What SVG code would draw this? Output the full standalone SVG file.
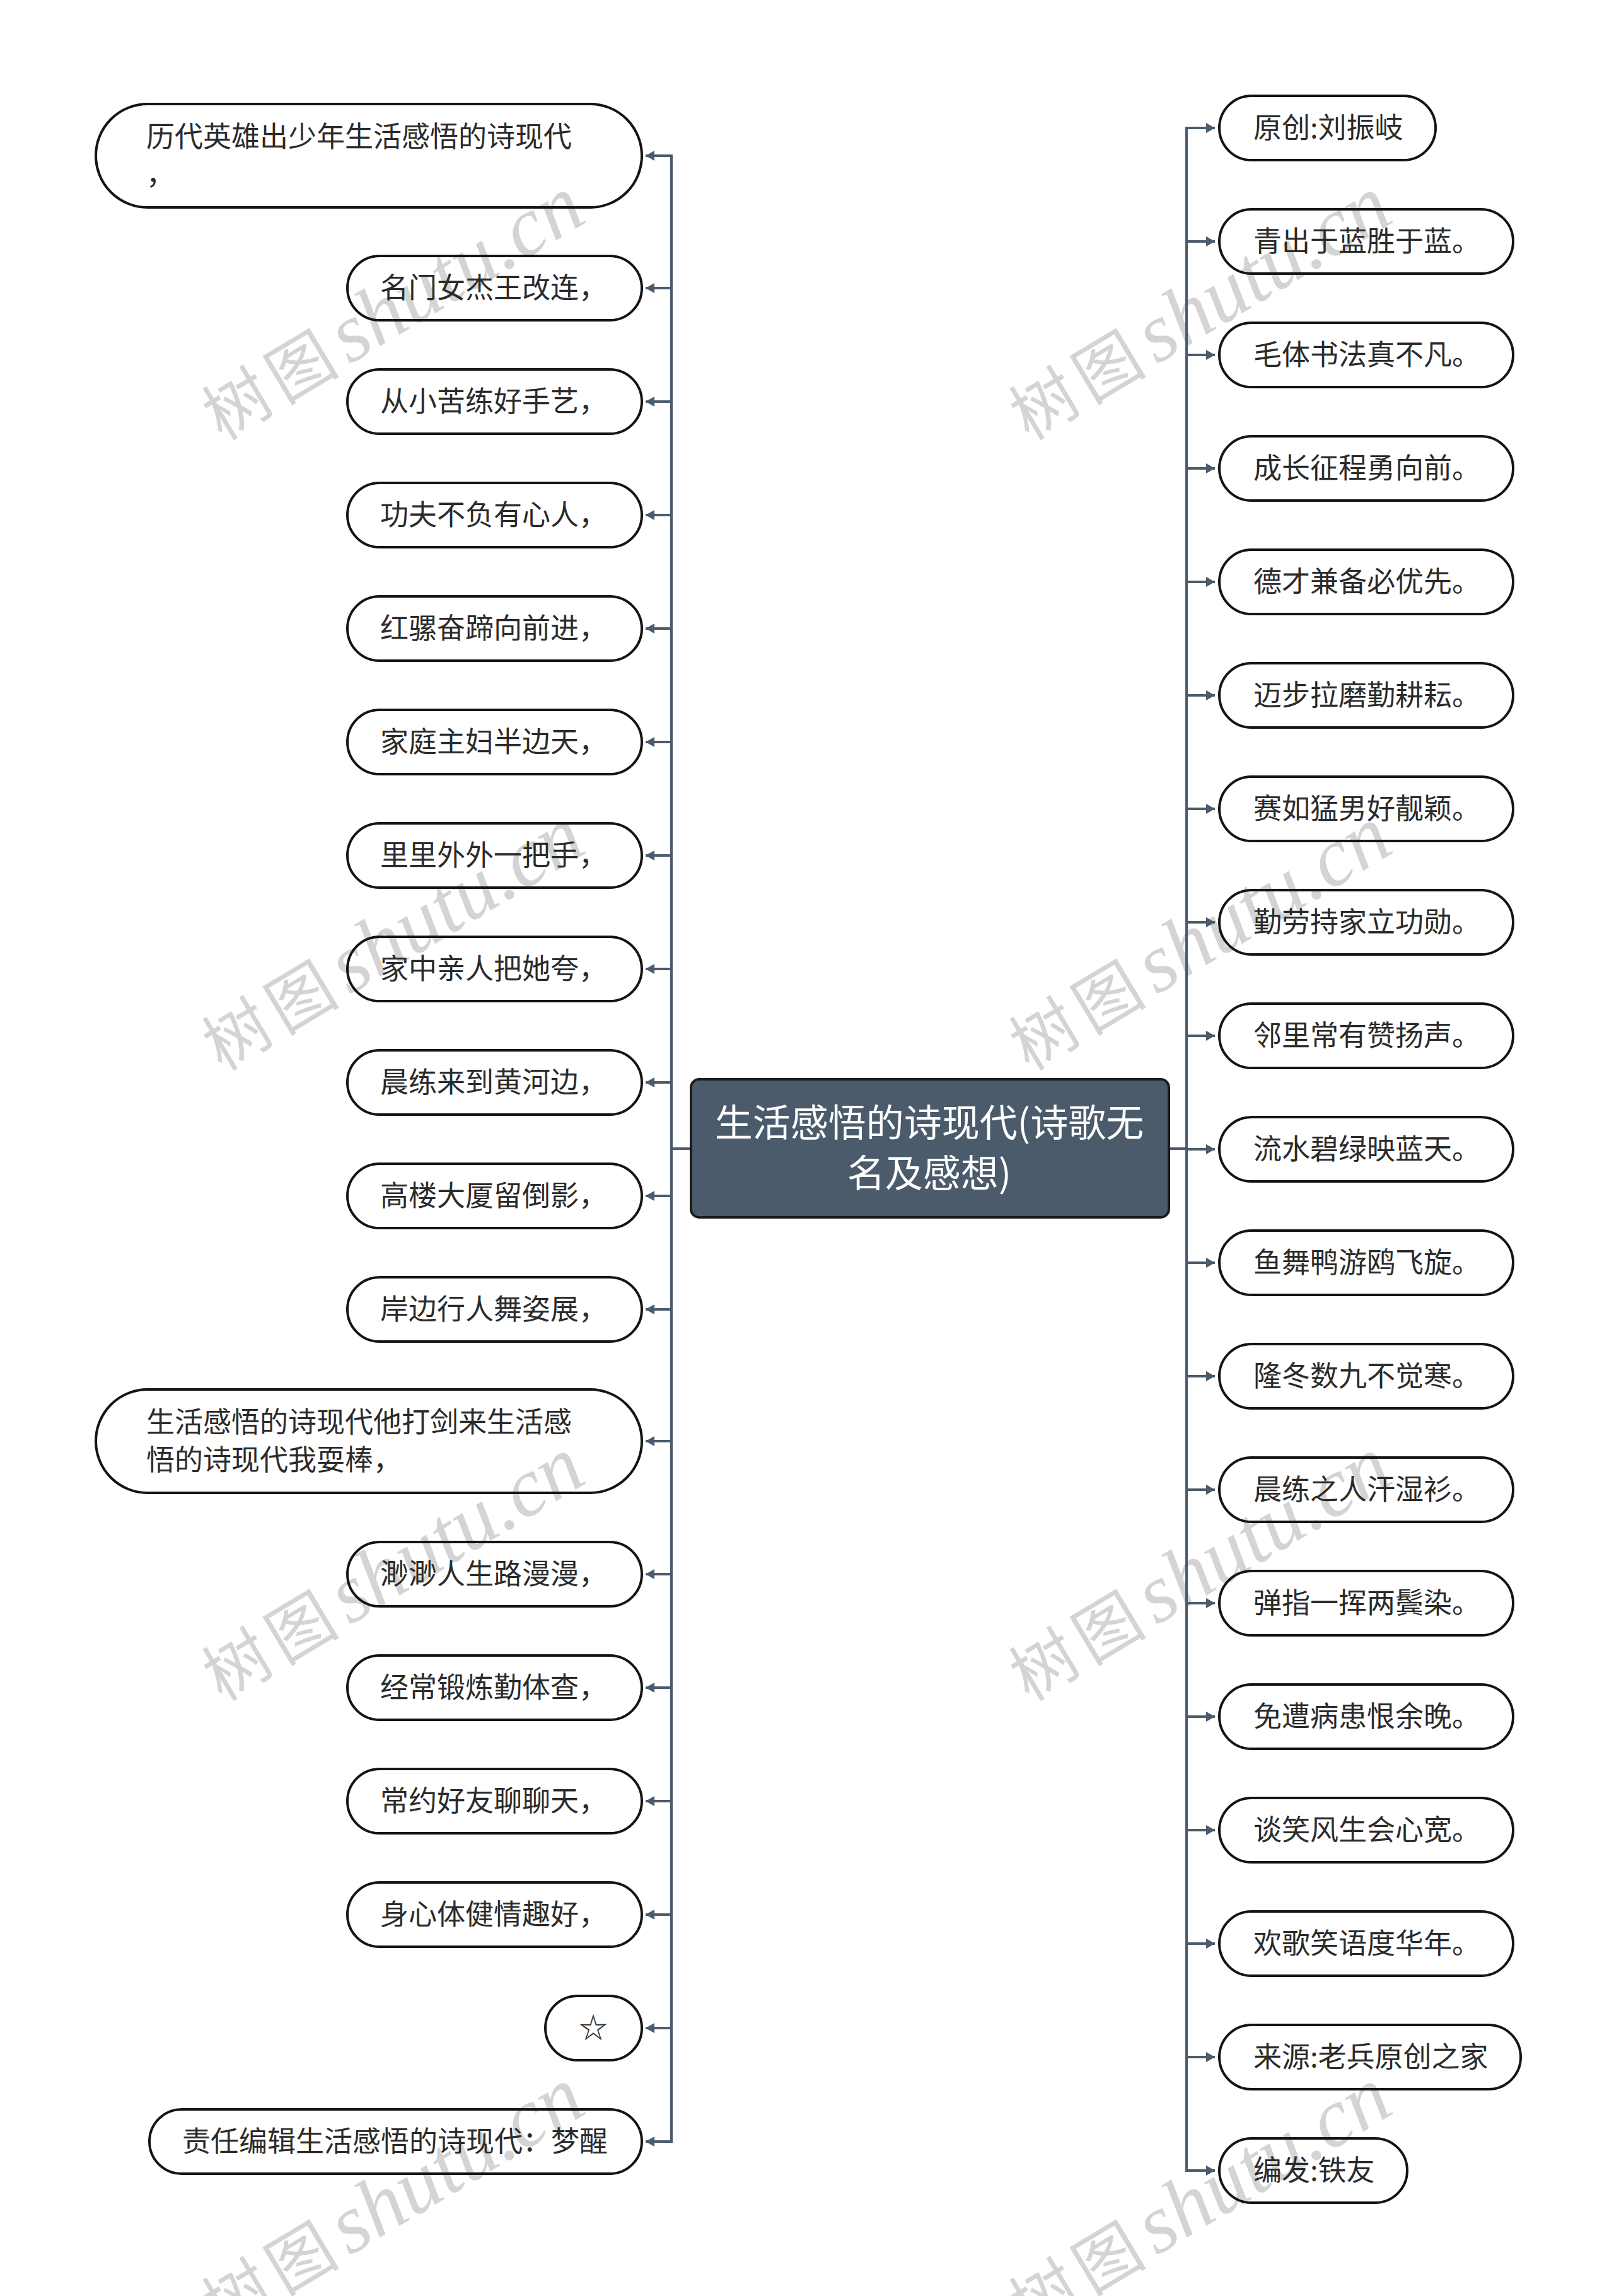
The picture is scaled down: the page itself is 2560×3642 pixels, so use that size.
<svg xmlns="http://www.w3.org/2000/svg" width="2560" height="3642" viewBox="0 0 2560 3642">
<style>
.bg{fill:#ffffff}
.wm{fill:#d4d4d4}
.wmc{font-family:"Noto Sans CJK SC","Noto Sans CJK TC",sans-serif;font-size:104px}
.wml{font-family:"Liberation Serif",serif;font-style:italic;font-size:132px}
.node{fill:none;stroke:#141414;stroke-width:4}
.t{font-family:"Noto Sans CJK SC","Noto Sans CJK TC",sans-serif;font-size:45px;fill:#2b2b2b}
.root{fill:#4b5b6b;stroke:#1c1c1c;stroke-width:4}
.rt{font-family:"Noto Sans CJK SC","Noto Sans CJK TC",sans-serif;font-size:60px;fill:#ffffff;text-anchor:middle}
.c{fill:none;stroke:#4b5b6b;stroke-width:4}
.tr{fill:none;stroke:#4b5b6b;stroke-width:4;stroke-linecap:square}
</style>
<defs>
<marker id="ah" viewBox="0 0 14 16" refX="14" refY="8" markerWidth="14" markerHeight="16" markerUnits="userSpaceOnUse" orient="auto">
<path d="M0,0 L14,8 L0,16 z" fill="#4b5b6b"/>
</marker>
</defs>
<rect class="bg" x="0" y="0" width="2560" height="3642"/>
<g id="watermarks" class="wm">
<text transform="translate(352,700) rotate(-31)"><tspan class="wmc">树</tspan><tspan class="wmc" dx="12">图</tspan><tspan class="wml" dx="16">shutu.cn</tspan></text>
<text transform="translate(1632,700) rotate(-31)"><tspan class="wmc">树</tspan><tspan class="wmc" dx="12">图</tspan><tspan class="wml" dx="16">shutu.cn</tspan></text>
<text transform="translate(352,1700) rotate(-31)"><tspan class="wmc">树</tspan><tspan class="wmc" dx="12">图</tspan><tspan class="wml" dx="16">shutu.cn</tspan></text>
<text transform="translate(1632,1700) rotate(-31)"><tspan class="wmc">树</tspan><tspan class="wmc" dx="12">图</tspan><tspan class="wml" dx="16">shutu.cn</tspan></text>
<text transform="translate(352,2700) rotate(-31)"><tspan class="wmc">树</tspan><tspan class="wmc" dx="12">图</tspan><tspan class="wml" dx="16">shutu.cn</tspan></text>
<text transform="translate(1632,2700) rotate(-31)"><tspan class="wmc">树</tspan><tspan class="wmc" dx="12">图</tspan><tspan class="wml" dx="16">shutu.cn</tspan></text>
<text transform="translate(352,3700) rotate(-31)"><tspan class="wmc">树</tspan><tspan class="wmc" dx="12">图</tspan><tspan class="wml" dx="16">shutu.cn</tspan></text>
<text transform="translate(1632,3700) rotate(-31)"><tspan class="wmc">树</tspan><tspan class="wmc" dx="12">图</tspan><tspan class="wml" dx="16">shutu.cn</tspan></text>
</g>
<g id="connectors">
<path class="tr" d="M1065,247 V3397"/>
<path class="tr" d="M1882,203 V3443"/>
<path class="c" d="M1094,1822 H1065"/>
<path class="c" d="M1855,1822 H1882"/>
<g marker-end="url(#ah)">
<path class="c" d="M1065,247 H1024"/>
<path class="c" d="M1065,457 H1024"/>
<path class="c" d="M1065,637 H1024"/>
<path class="c" d="M1065,817 H1024"/>
<path class="c" d="M1065,997 H1024"/>
<path class="c" d="M1065,1177 H1024"/>
<path class="c" d="M1065,1357 H1024"/>
<path class="c" d="M1065,1537 H1024"/>
<path class="c" d="M1065,1717 H1024"/>
<path class="c" d="M1065,1897 H1024"/>
<path class="c" d="M1065,2077 H1024"/>
<path class="c" d="M1065,2286 H1024"/>
<path class="c" d="M1065,2497 H1024"/>
<path class="c" d="M1065,2677 H1024"/>
<path class="c" d="M1065,2857 H1024"/>
<path class="c" d="M1065,3037 H1024"/>
<path class="c" d="M1065,3217 H1024"/>
<path class="c" d="M1065,3397 H1024"/>
<path class="c" d="M1882,203 H1927"/>
<path class="c" d="M1882,383 H1927"/>
<path class="c" d="M1882,563 H1927"/>
<path class="c" d="M1882,743 H1927"/>
<path class="c" d="M1882,923 H1927"/>
<path class="c" d="M1882,1103 H1927"/>
<path class="c" d="M1882,1283 H1927"/>
<path class="c" d="M1882,1463 H1927"/>
<path class="c" d="M1882,1643 H1927"/>
<path class="c" d="M1882,1823 H1927"/>
<path class="c" d="M1882,2003 H1927"/>
<path class="c" d="M1882,2183 H1927"/>
<path class="c" d="M1882,2363 H1927"/>
<path class="c" d="M1882,2543 H1927"/>
<path class="c" d="M1882,2723 H1927"/>
<path class="c" d="M1882,2903 H1927"/>
<path class="c" d="M1882,3083 H1927"/>
<path class="c" d="M1882,3263 H1927"/>
<path class="c" d="M1882,3443 H1927"/>
</g>
</g>
<g id="root">
<rect class="root" x="1096" y="1712" width="758" height="219" rx="13"/>
<text class="rt" x="1474" y="1803">生活感悟的诗现代(诗歌无</text>
<text class="rt" x="1474" y="1883">名及感想)</text>
</g>
<g id="L0"><rect class="node" x="152" y="165" width="866" height="164" rx="82"/><text class="t" x="232" y="233">历代英雄出少年生活感悟的诗现代</text><text class="t" x="232" y="293">，</text></g>
<g id="L1"><rect class="node" x="551" y="406" width="467" height="102" rx="51"/><text class="t" x="603" y="473">名门女杰王改连，</text></g>
<g id="L2"><rect class="node" x="551" y="586" width="467" height="102" rx="51"/><text class="t" x="603" y="653">从小苦练好手艺，</text></g>
<g id="L3"><rect class="node" x="551" y="766" width="467" height="102" rx="51"/><text class="t" x="603" y="833">功夫不负有心人，</text></g>
<g id="L4"><rect class="node" x="551" y="946" width="467" height="102" rx="51"/><text class="t" x="603" y="1013">红骡奋蹄向前进，</text></g>
<g id="L5"><rect class="node" x="551" y="1126" width="467" height="102" rx="51"/><text class="t" x="603" y="1193">家庭主妇半边天，</text></g>
<g id="L6"><rect class="node" x="551" y="1306" width="467" height="102" rx="51"/><text class="t" x="603" y="1373">里里外外一把手，</text></g>
<g id="L7"><rect class="node" x="551" y="1486" width="467" height="102" rx="51"/><text class="t" x="603" y="1553">家中亲人把她夸，</text></g>
<g id="L8"><rect class="node" x="551" y="1666" width="467" height="102" rx="51"/><text class="t" x="603" y="1733">晨练来到黄河边，</text></g>
<g id="L9"><rect class="node" x="551" y="1846" width="467" height="102" rx="51"/><text class="t" x="603" y="1913">高楼大厦留倒影，</text></g>
<g id="L10"><rect class="node" x="551" y="2026" width="467" height="102" rx="51"/><text class="t" x="603" y="2093">岸边行人舞姿展，</text></g>
<g id="L11"><rect class="node" x="152" y="2204" width="866" height="164" rx="82"/><text class="t" x="232" y="2272">生活感悟的诗现代他打剑来生活感</text><text class="t" x="232" y="2332">悟的诗现代我耍棒，</text></g>
<g id="L12"><rect class="node" x="551" y="2446" width="467" height="102" rx="51"/><text class="t" x="603" y="2513">渺渺人生路漫漫，</text></g>
<g id="L13"><rect class="node" x="551" y="2626" width="467" height="102" rx="51"/><text class="t" x="603" y="2693">经常锻炼勤体查，</text></g>
<g id="L14"><rect class="node" x="551" y="2806" width="467" height="102" rx="51"/><text class="t" x="603" y="2873">常约好友聊聊天，</text></g>
<g id="L15"><rect class="node" x="551" y="2986" width="467" height="102" rx="51"/><text class="t" x="603" y="3053">身心体健情趣好，</text></g>
<g id="L16"><rect class="node" x="865" y="3166" width="153" height="102" rx="51"/><text class="t" x="941" y="3233" text-anchor="middle">☆</text></g>
<g id="L17"><rect class="node" x="237" y="3346" width="781" height="102" rx="51"/><text class="t" x="289" y="3413">责任编辑生活感悟的诗现代：梦醒</text></g>
<g id="R0"><rect class="node" x="1934" y="152" width="343" height="102" rx="51"/><text class="t" x="1988" y="219">原创:刘振岐</text></g>
<g id="R1"><rect class="node" x="1934" y="332" width="466" height="102" rx="51"/><text class="t" x="1988" y="399">青出于蓝胜于蓝。</text></g>
<g id="R2"><rect class="node" x="1934" y="512" width="466" height="102" rx="51"/><text class="t" x="1988" y="579">毛体书法真不凡。</text></g>
<g id="R3"><rect class="node" x="1934" y="692" width="466" height="102" rx="51"/><text class="t" x="1988" y="759">成长征程勇向前。</text></g>
<g id="R4"><rect class="node" x="1934" y="872" width="466" height="102" rx="51"/><text class="t" x="1988" y="939">德才兼备必优先。</text></g>
<g id="R5"><rect class="node" x="1934" y="1052" width="466" height="102" rx="51"/><text class="t" x="1988" y="1119">迈步拉磨勤耕耘。</text></g>
<g id="R6"><rect class="node" x="1934" y="1232" width="466" height="102" rx="51"/><text class="t" x="1988" y="1299">赛如猛男好靓颖。</text></g>
<g id="R7"><rect class="node" x="1934" y="1412" width="466" height="102" rx="51"/><text class="t" x="1988" y="1479">勤劳持家立功勋。</text></g>
<g id="R8"><rect class="node" x="1934" y="1592" width="466" height="102" rx="51"/><text class="t" x="1988" y="1659">邻里常有赞扬声。</text></g>
<g id="R9"><rect class="node" x="1934" y="1772" width="466" height="102" rx="51"/><text class="t" x="1988" y="1839">流水碧绿映蓝天。</text></g>
<g id="R10"><rect class="node" x="1934" y="1952" width="466" height="102" rx="51"/><text class="t" x="1988" y="2019">鱼舞鸭游鸥飞旋。</text></g>
<g id="R11"><rect class="node" x="1934" y="2132" width="466" height="102" rx="51"/><text class="t" x="1988" y="2199">隆冬数九不觉寒。</text></g>
<g id="R12"><rect class="node" x="1934" y="2312" width="466" height="102" rx="51"/><text class="t" x="1988" y="2379">晨练之人汗湿衫。</text></g>
<g id="R13"><rect class="node" x="1934" y="2492" width="466" height="102" rx="51"/><text class="t" x="1988" y="2559">弹指一挥两鬓染。</text></g>
<g id="R14"><rect class="node" x="1934" y="2672" width="466" height="102" rx="51"/><text class="t" x="1988" y="2739">免遭病患恨余晚。</text></g>
<g id="R15"><rect class="node" x="1934" y="2852" width="466" height="102" rx="51"/><text class="t" x="1988" y="2919">谈笑风生会心宽。</text></g>
<g id="R16"><rect class="node" x="1934" y="3032" width="466" height="102" rx="51"/><text class="t" x="1988" y="3099">欢歌笑语度华年。</text></g>
<g id="R17"><rect class="node" x="1934" y="3212" width="478" height="102" rx="51"/><text class="t" x="1988" y="3279">来源:老兵原创之家</text></g>
<g id="R18"><rect class="node" x="1934" y="3392" width="298" height="102" rx="51"/><text class="t" x="1988" y="3459">编发:铁友</text></g>
</svg>
